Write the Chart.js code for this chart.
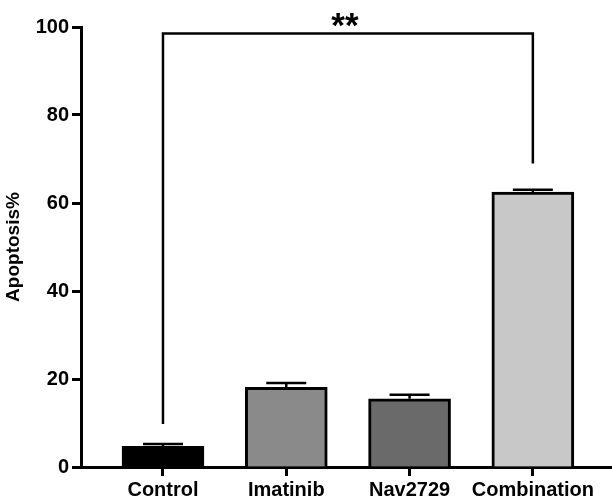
<!DOCTYPE html>
<html>
<head>
<meta charset="utf-8">
<script src="https://cdn.jsdelivr.net/npm/chart.js@4"></script>
<style>
  body { margin: 0; background: #fff; }
  #wrap { width: 612px; height: 502px; position: relative; }
</style>
</head>
<body>
<div id="wrap"><canvas id="grafica"></canvas></div>
<script>
// datos
const grupos = ["Control", "Imatinib", "Nav2729", "Combination"];
const medias = [4.7, 18.1, 15.5, 62.5];
const errores = [0.5, 1.0, 0.9, 0.5];
const colores = ["#000000", "#8a8a8a", "#6a6a6a", "#c8c8c8"];
const ticksY = [0, 20, 40, 60, 80, 100];
// comparacion Control vs Combination
const comparacion = { desde: 0, hasta: 3, alto: 98.5, pieIzq: 9.8, pieDer: 69, marca: "**" };

const fuente = '"Liberation Sans", Arial, sans-serif';

// barras de error (solo hacia arriba) y corchete de significancia
const extras = {
    id: "extras",
    afterDatasetsDraw(chart) {
        const ctx = chart.ctx;
        const x = chart.scales.x;
        const y = chart.scales.y;
        ctx.save();
        ctx.strokeStyle = "#000";
        ctx.lineWidth = 2.5;
        medias.forEach((m, i) => {
            const px = x.getPixelForValue(i + 1);
            const top = y.getPixelForValue(m + errores[i]);
            const base = y.getPixelForValue(m);
            ctx.beginPath();
            ctx.moveTo(px, base);
            ctx.lineTo(px, top);
            ctx.moveTo(px - 20, top);
            ctx.lineTo(px + 20, top);
            ctx.stroke();
        });

        const x1 = x.getPixelForValue(comparacion.desde + 1);
        const x2 = x.getPixelForValue(comparacion.hasta + 1);
        const yTop = y.getPixelForValue(comparacion.alto);
        ctx.lineWidth = 2.5;
        ctx.beginPath();
        ctx.moveTo(x1, y.getPixelForValue(comparacion.pieIzq));
        ctx.lineTo(x1, yTop);
        ctx.lineTo(x2, yTop);
        ctx.lineTo(x2, y.getPixelForValue(comparacion.pieDer));
        ctx.stroke();

        ctx.fillStyle = "#000";
        ctx.font = "bold 35px " + fuente;
        ctx.textAlign = "center";
        ctx.textBaseline = "alphabetic";
        ctx.fillText(comparacion.marca, (x1 + x2) / 2 - 3, yTop + 3);
        ctx.restore();
    }
};

const ctx = document.getElementById("grafica").getContext("2d");
new Chart(ctx, {
    type: "bar",
    data: {
        datasets: [{
            data: medias.map((m, i) => ({ x: i + 1, y: m })),
            backgroundColor: colores,
            borderColor: "#000",
            borderWidth: 3,
            barThickness: 82
        }]
    },
    options: {
        responsive: true,
        maintainAspectRatio: false,
        animation: false,
        layout: { padding: { top: 27, right: 0, left: 0, bottom: 0 } },
        plugins: {
            legend: { display: false },
            tooltip: { enabled: false }
        },
        scales: {
            x: {
                type: "linear",
                offset: false,
                min: 0.335,
                max: 4.642,
                afterBuildTicks: (s) => { s.ticks = grupos.map((g, i) => ({ value: i + 1 })); },
                afterFit: (s) => { s.height = 35; },
                grid: {
                    offset: false,
                    drawOnChartArea: false,
                    tickLength: 9,
                    tickWidth: 3,
                    color: "#000"
                },
                border: { display: true, color: "#000", width: 3 },
                ticks: {
                    autoSkip: false,
                    maxRotation: 0,
                    padding: 2,
                    color: "#000",
                    font: { family: fuente, size: 20, weight: "bold" },
                    callback: (v) => grupos[v - 1] || ""
                }
            },
            y: {
                min: 0,
                max: 100,
                afterBuildTicks: (s) => { s.ticks = ticksY.map(v => ({ value: v })); },
                afterFit: (s) => { s.width = 81; },
                grid: {
                    drawOnChartArea: false,
                    tickLength: 9,
                    tickWidth: 3,
                    color: "#000"
                },
                border: { display: true, color: "#000", width: 3 },
                ticks: {
                    padding: 3,
                    color: "#000",
                    font: { family: fuente, size: 20, weight: "bold" }
                },
                title: {
                    display: true,
                    text: "Apoptosis%",
                    color: "#000",
                    padding: { top: 2, bottom: 0 },
                    font: { family: fuente, size: 19, weight: "bold" }
                }
            }
        }
    },
    plugins: [extras]
});
</script>
</body>
</html>
